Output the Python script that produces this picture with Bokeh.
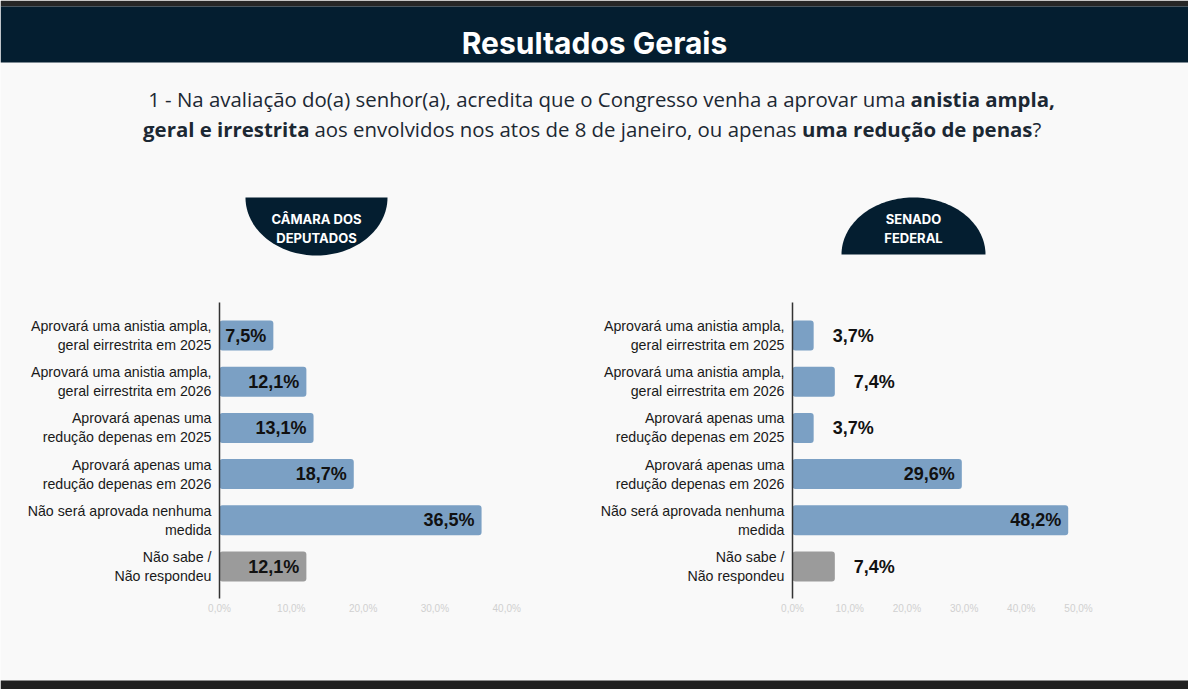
import numpy as np
from bokeh.plotting import figure
from bokeh.models import Range1d, ColumnDataSource
from bokeh.core.properties import value
from bokeh.embed import file_html
from bokeh.resources import INLINE

# ---------------- data ----------------
categories = [
    "Aprovará uma anistia ampla,\ngeral eirrestrita em 2025",
    "Aprovará uma anistia ampla,\ngeral eirrestrita em 2026",
    "Aprovará apenas uma\nredução depenas em 2025",
    "Aprovará apenas uma\nredução depenas em 2026",
    "Não será aprovada nenhuma\nmedida",
    "Não sabe /\nNão respondeu",
]
camara_values = [7.5, 12.1, 13.1, 18.7, 36.5, 12.1]
senado_values = [3.7, 7.4, 3.7, 29.6, 48.2, 7.4]
camara_ticks = [0, 10, 20, 30, 40]
senado_ticks = [0, 10, 20, 30, 40, 50]
title_text = "Resultados Gerais"
camara_title = "CÂMARA DOS\nDEPUTADOS"
senado_title = "SENADO\nFEDERAL"

# ---------------- style ----------------
W, H = 1188, 689
NAVY = "#041e30"
BLUE = "#7ba0c4"
GRAY = "#9b9b9b"
TXT = "#1c2833"
LABEL_FONT = value("Liberation Sans")

def fmt(v):
    return f"{v:.1f}".replace(".", ",") + "%"

p = figure(width=W, height=H, x_range=Range1d(0, W), y_range=Range1d(H, 0),
           x_axis_type=None, y_axis_type=None, toolbar_location=None,
           output_backend="svg", min_border=0, outline_line_color=None,
           background_fill_color="#f9f9f9", border_fill_color="#f9f9f9")
p.grid.visible = False

# chart scales: left (Camara) 0% at px 219, 7.18 px per %; right (Senado) 0% at px 792, 5.72 px per %
lx0, lk = 219.0, 7.18
rx0, rk = 792.0, 5.72
p.extra_x_ranges = {
    "lx": Range1d(-lx0 / lk, (W - lx0) / lk),
    "rx": Range1d(-rx0 / rk, (W - rx0) / rk),
}
# rows: first row center at px 335, step 46.2 px
y0, ys = 335.0, 46.2
p.extra_y_ranges = {"by": Range1d((H - y0) / ys, -y0 / ys)}

# ---------------- header ----------------
p.quad(left=0, right=W, top=0, bottom=6, fill_color="#262626", line_color=None)
p.quad(left=0, right=W, top=6, bottom=62, fill_color=NAVY, line_color=None)
p.quad(left=0, right=W, top=680, bottom=H, fill_color="#202020", line_color=None)
p.text(x=[594], y=[42], text=[title_text], text_font=value("Inter"), text_font_style="bold",
       text_font_size="30px", text_color="white", text_align="center", text_baseline="middle")

QF = value("Open Sans")
QS = "20.4px"
def qtext(x, y, t, bold, align):
    p.text(x=[x], y=[y], text=[t], text_font=QF, text_font_size=QS,
           text_font_style="bold" if bold else "normal", text_color=TXT,
           text_align=align, text_baseline="middle")

qtext(905, 98, "1 - Na avaliação do(a) senhor(a), acredita que o Congresso venha a aprovar uma", False, "right")
qtext(910, 98, "anistia ampla,", True, "left")
qtext(309, 128, "geral e irrestrita", True, "right")
qtext(314, 128, "aos envolvidos nos atos de 8 de janeiro, ou apenas", False, "left")
qtext(1032, 128, "uma redução de penas", True, "right")
qtext(1032, 128, "?", False, "left")

# ---------------- badges ----------------
t = np.linspace(0, np.pi, 80)
# left: lower half ellipse
lcx, lcy, lrx, lry = 316.0, 197.0, 71.0, 58.0
p.patch(x=list(lcx + lrx * np.cos(t)), y=list(lcy + lry * np.sin(t)), fill_color=NAVY, line_color=None)
# right: upper half ellipse
rcx, rcy, rrx, rry = 913.0, 254.0, 72.0, 57.0
p.patch(x=list(rcx + rrx * np.cos(t)), y=list(rcy - rry * np.sin(t)), fill_color=NAVY, line_color=None)
for cx, txt in ((316, camara_title), (913, senado_title)):
    p.text(x=[cx], y=[228], text=[txt], text_font=value("Inter"), text_font_style="bold",
           text_font_size="13px", text_color="white", text_align="center",
           text_baseline="middle", text_line_height=1.2)

# ---------------- charts ----------------
idx = list(range(len(categories)))
colors = [BLUE] * (len(categories) - 1) + [GRAY]

def chart(vals, ticks, rname, outside_below):
    src = ColumnDataSource(dict(y=idx, v=vals, c=colors, lab=[fmt(v) for v in vals], cat=categories))
    p.hbar(y="y", left=0, right="v", height=0.65, fill_color="c", line_color=None,
           border_radius=3, source=src, x_range_name=rname, y_range_name="by")
    # axis line
    p.segment(x0=[0], x1=[0], y0=[302], y1=[598], line_color="#333333", line_width=1.5,
              x_range_name=rname)
    # category labels
    p.text(x=0, y="y", text="cat", source=src, x_range_name=rname, y_range_name="by",
           x_offset=-8, text_font=LABEL_FONT, text_font_size="14.2px", text_color="#1a1a1a",
           text_align="right", text_baseline="middle", text_line_height=1.2)
    # value labels
    ins = [i for i, v in enumerate(vals) if v >= outside_below]
    out = [i for i, v in enumerate(vals) if v < outside_below]
    if ins:
        p.text(x=[vals[i] for i in ins], y=[idx[i] for i in ins], text=[fmt(vals[i]) for i in ins],
               x_range_name=rname, y_range_name="by", x_offset=-7, text_font=LABEL_FONT,
               text_font_style="bold", text_font_size="18px", text_color="#111111",
               text_align="right", text_baseline="middle")
    if out:
        p.text(x=[vals[i] for i in out], y=[idx[i] for i in out], text=[fmt(vals[i]) for i in out],
               x_range_name=rname, y_range_name="by", x_offset=19, text_font=LABEL_FONT,
               text_font_style="bold", text_font_size="18px", text_color="#111111",
               text_align="left", text_baseline="middle")
    # tick labels
    p.text(x=ticks, y=[608] * len(ticks), text=[fmt(float(t)) for t in ticks],
           x_range_name=rname, text_font=LABEL_FONT, text_font_size="10px",
           text_color="#d0d0d0", text_align="center", text_baseline="middle")

chart(camara_values, camara_ticks, "lx", 0)
chart(senado_values, senado_ticks, "rx", 10)

open("out.html", "w").write(file_html(p, INLINE))
